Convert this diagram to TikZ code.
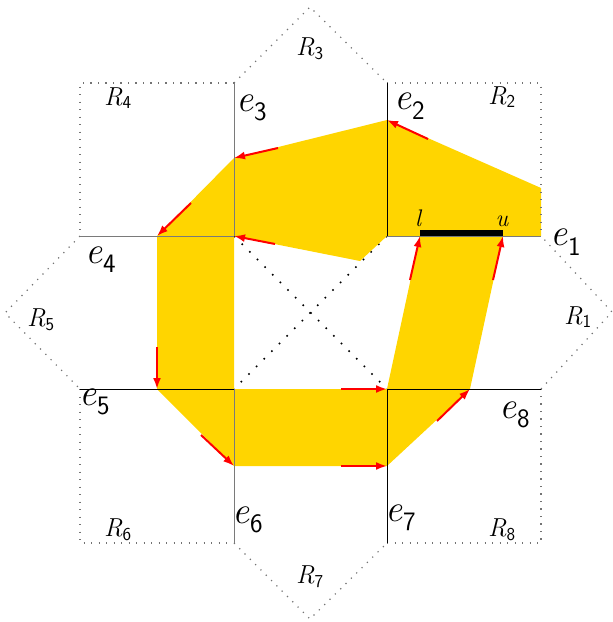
\documentclass[tikz,border=0pt]{standalone}
\usetikzlibrary{arrows.meta}
\definecolor{corridor}{HTML}{FFD500}
\definecolor{arrowred}{HTML}{FF0000}
\definecolor{wall}{HTML}{7A7A7A}
\newcommand\sublab[2]{\textit{#1}\textsubscript{\sffamily #2}}

\begin{document}
\begin{tikzpicture}[
  x=1pt, y=-1pt,
  edge/.style={line width=1pt, draw=black},
  softedge/.style={line width=1pt, draw=wall},
  region/.style={line width=1.2pt, draw=black!55, dash pattern=on 1.2pt off 6.3pt},
  diag/.style={line width=1.6pt, draw=black, dash pattern=on 1.6pt off 9.2pt},
  flowarrow/.style={-{Latex[length=11pt,width=8pt]}, line width=2pt, draw=arrowred},
  interval/.style={line width=6pt, draw=black},
  elabel/.style={font=\fontsize{38}{42}\selectfont, inner sep=0pt},
  rlabel/.style={font=\fontsize{26}{30}\selectfont, inner sep=0pt},
  blabel/.style={font=\fontsize{24}{26}\selectfont\itshape, inner sep=0pt}
]
\useasboundingbox (0,0) rectangle (613,622);

% central square
\coordinate (A) at (234,236);
\coordinate (B) at (387,236);
\coordinate (C) at (387,389);
\coordinate (D) at (234,389);
% outer ends of the edges
\coordinate (e1o) at (541,236);
\coordinate (e2o) at (387,83);
\coordinate (e3o) at (234,83);
\coordinate (e4o) at (80,236);
\coordinate (e5o) at (80,389);
\coordinate (e6o) at (234,543);
\coordinate (e7o) at (387,543);
\coordinate (e8o) at (541,389);
% region corners
\coordinate (t1) at (612,312);
\coordinate (q2) at (541,83);
\coordinate (t3) at (310,7);
\coordinate (q4) at (80,83);
\coordinate (t5) at (5,313);
\coordinate (q6) at (80,543);
\coordinate (t7) at (310,619);
\coordinate (q8) at (541,543);
% corridor
\coordinate (p2) at (387,120);
\coordinate (r2) at (541,188);
\coordinate (l) at (420,236);
\coordinate (u) at (503,236);
\coordinate (p8) at (470,389);
\coordinate (p7) at (387,466);
\coordinate (p6) at (234,466);
\coordinate (p5) at (157,389);
\coordinate (p4) at (157,236);
\coordinate (p3) at (234,158);
\coordinate (dip) at (360,261);

\draw[diag] (A) -- (C);
\draw[diag] (B) -- (D);

\fill[corridor, even odd rule] (p2) -- (r2) -- (e1o) -- (u) -- (p8) -- (p7) -- (p6)
  -- (p5) -- (p4) -- (p3) -- cycle
  (l) -- (C) -- (D) -- (A) -- (dip) -- (B) -- cycle;

\draw[region] (e2o) -- (q2) -- (e1o);
\draw[region] (e3o) -- (t3) -- (e2o);
\draw[region] (e3o) -- (q4) -- (e4o);
\draw[region] (e4o) -- (t5) -- (e5o);
\draw[region] (e5o) -- (q6) -- (e6o);
\draw[region] (e6o) -- (t7) -- (e7o);
\draw[region] (e7o) -- (q8) -- (e8o);
\draw[region] (e8o) -- (t1) -- (e1o);

\draw[softedge] (B) -- (e1o);
\draw[edge] (B) -- (e2o);
\draw[softedge] (A) -- (e3o);
\draw[softedge] (A) -- (e4o);
\draw[edge] (D) -- (e5o);
\draw[softedge] (D) -- (e6o);
\draw[edge] (C) -- (e7o);
\draw[edge] (C) -- (e8o);

\draw[interval] ([shift={(0,-3.5)}]l) -- ([shift={(0,-3.5)}]u);

\draw[flowarrow] ([shift={(41,19)}]p2) -- (p2);
\draw[flowarrow] ([shift={(44,-10)}]p3) -- (p3);
\draw[flowarrow] ([shift={(34,-33)}]p4) -- (p4);
\draw[flowarrow] ([shift={(41,8)}]A) -- (A);
\draw[flowarrow] ([shift={(0,-42)}]p5) -- (p5);
\draw[flowarrow] ([shift={(-33,-31)}]p6) -- (p6);
\draw[flowarrow] ([shift={(-46,0)}]C) -- (C);
\draw[flowarrow] ([shift={(-46,0)}]p7) -- (p7);
\draw[flowarrow] ([shift={(-33,32)}]p8) -- (p8);
\draw[flowarrow] ([shift={(-10,44)}]l) -- (l);
\draw[flowarrow] ([shift={(-10,44)}]u) -- (u);

\node[blabel] (lname) at (418,218) {l};
\node[blabel] (uname) at (502,221) {u};

\node[elabel] (le1) at (566,242) {\sublab{e}{1}};
\node[elabel] (le2) at (410,106) {\sublab{e}{2}};
\node[elabel] (le3) at (252,108) {\sublab{e}{3}};
\node[elabel] (le4) at (101,260) {\sublab{e}{4}};
\node[elabel] (le5) at (95,402) {\sublab{e}{5}};
\node[elabel] (le6) at (248,520) {\sublab{e}{6}};
\node[elabel] (le7) at (401,518) {\sublab{e}{7}};
\node[elabel] (le8) at (515,415) {\sublab{e}{8}};

\node[rlabel] (lr1) at (578,317) {\sublab{R}{1}};
\node[rlabel] (lr2) at (502,97) {\sublab{R}{2}};
\node[rlabel] (lr3) at (310,49) {\sublab{R}{3}};
\node[rlabel] (lr4) at (118,98) {\sublab{R}{4}};
\node[rlabel] (lr5) at (41,320) {\sublab{R}{5}};
\node[rlabel] (lr6) at (118,530) {\sublab{R}{6}};
\node[rlabel] (lr7) at (310,577) {\sublab{R}{7}};
\node[rlabel] (lr8) at (502,530) {\sublab{R}{8}};

\end{tikzpicture}
\end{document}
